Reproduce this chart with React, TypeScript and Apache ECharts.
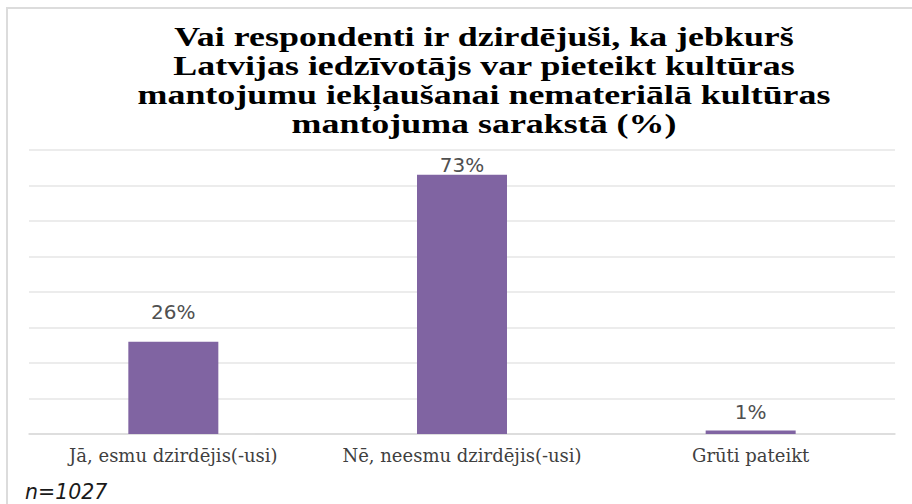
import React, { useEffect, useRef } from "react";
import * as echarts from "echarts";

const categories = ["Jā, esmu dzirdējis(-usi)", "Nē, neesmu dzirdējis(-usi)", "Grūti pateikt"];
const values = [26, 73, 1];
const titleLines = [
  "Vai respondenti ir dzirdējuši, ka jebkurš",
  "Latvijas iedzīvotājs var pieteikt kultūras",
  "mantojumu iekļaušanai nemateriālā kultūras",
  "mantojuma sarakstā (%)",
];
const footnote = "n=1027";

const labelDistances = [20, 0, 8];
const SERIF = "'DejaVu Serif', serif";

export default function App() {
  const ref = useRef<HTMLDivElement>(null);
  useEffect(() => {
    if (!ref.current) return;
    const chart = echarts.init(ref.current, null, { renderer: "svg" });
    chart.setOption({
      animation: false,
      backgroundColor: "#ffffff",
      grid: { left: 29, right: 17, top: 150, bottom: 70, containLabel: false },
      xAxis: {
        type: "category",
        data: categories,
        axisLine: { show: true, lineStyle: { color: "#d9d9d9", width: 1.5 } },
        axisTick: { show: false },
        axisLabel: {
          interval: 0,
          hideOverlap: false,
          margin: 12,
          fontFamily: SERIF,
          fontSize: 18,
          color: "#404040",
        },
      },
      yAxis: {
        type: "value",
        min: 0,
        max: 80,
        interval: 10,
        axisLabel: { show: false },
        axisLine: { show: false },
        axisTick: { show: false },
        splitLine: { lineStyle: { color: "#e6e6e6", width: 1.5 } },
      },
      series: [
        {
          type: "bar",
          barWidth: 90,
          itemStyle: { color: "#8064A2" },
          data: values.map((v, i) => ({
            value: v,
            label: { distance: labelDistances[i] },
          })),
          label: {
            show: true,
            position: "top",
            formatter: "{c}%",
            fontFamily: "'DejaVu Sans', sans-serif",
            fontSize: 20,
            color: "#505050",
          },
        },
      ],
      graphic: [
        {
          type: "rect",
          shape: { x: 7, y: 8, width: 960, height: 560 },
          style: { fill: "none", stroke: "#dcdcdc", lineWidth: 2 },
          silent: true,
        },
        {
          type: "text",
          x: 484,
          y: 22,
          scaleX: 1.33,
          style: {
            text: titleLines.join("\n"),
            fontFamily: "'Liberation Serif', serif",
            fontWeight: "bold",
            fontSize: 27,
            lineHeight: 29.3,
            fill: "#000000",
            textAlign: "center",
            textVerticalAlign: "top",
          },
        },
        {
          type: "text",
          x: 25,
          y: 492,
          style: {
            text: footnote,
            fontFamily: "'DejaVu Sans', sans-serif",
            fontStyle: "italic",
            fontSize: 20.5,
            fill: "#1a1a1a",
            textAlign: "left",
            textVerticalAlign: "middle",
          },
        },
      ],
    });
    return () => chart.dispose();
  }, []);
  return (
    <div
      ref={ref}
      style={{ position: "fixed", left: 0, top: 0, width: 912, height: 504 }}
    />
  );
}
